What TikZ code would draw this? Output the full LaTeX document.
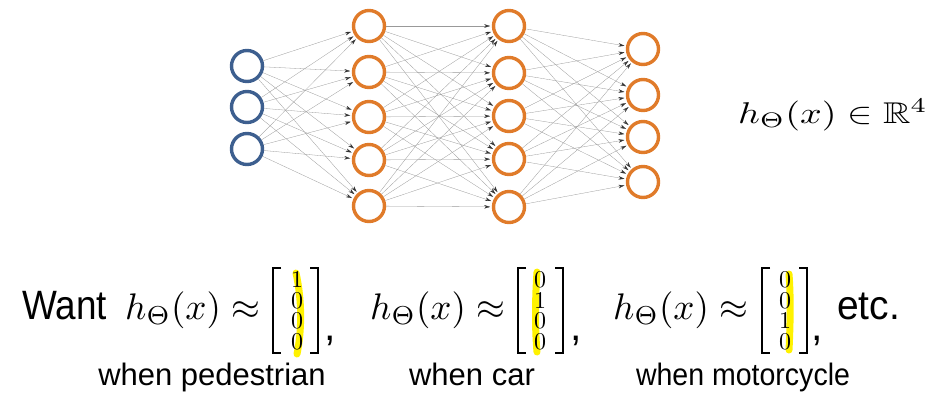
\documentclass[tikz,border=0pt]{standalone}
\usepackage{fontspec}
\setsansfont{Liberation Sans}
\usepackage{amsmath,amssymb}
\usepackage{graphicx}
\usetikzlibrary{arrows.meta}
\definecolor{nnblue}{RGB}{61,95,143}
\definecolor{nnorange}{RGB}{224,123,42}
\definecolor{hl}{RGB}{255,242,0}
\begin{document}
\begin{tikzpicture}[x=1pt,y=-1pt,
 neuron/.style={circle,draw,line width=3.4pt,minimum size=31pt,inner sep=0pt},
 inn/.style={neuron,draw=nnblue},
 hid/.style={neuron,draw=nnorange},
 conn/.style={draw=black!40,line width=0.3pt,-{Stealth[length=6pt,width=3.5pt,color=black!80]},shorten >=1.6pt},
 sans/.style={font=\sffamily\fontsize{41}{48}\selectfont,inner sep=0pt},
 lab/.style={font=\sffamily\fontsize{31}{36}\selectfont,inner sep=0pt},
 mth/.style={font=\fontsize{10}{12}\selectfont,inner sep=0pt},
 dig/.style={font=\fontsize{10}{12}\selectfont,inner sep=0pt},
 brk/.style={line width=1.6pt},
 hlpen/.style={draw=hl,line width=7pt,line cap=round}
]
\useasboundingbox (0,0) rectangle (941,402);
% neurons
\foreach \i/\y in {1/66,2/107,3/149} \node[inn] (i\i) at (247,\y) {};
\foreach \i/\y in {1/26,2/72,3/117,4/160,5/206} \node[hid] (a\i) at (369,\y) {};
\foreach \i/\y in {1/26,2/73,3/116,4/159,5/207} \node[hid] (b\i) at (509,\y) {};
\foreach \i/\y in {1/49,2/95,3/137,4/182} \node[hid] (o\i) at (643,\y) {};
% connections
\foreach \s in {1,...,3}\foreach \t in {1,...,5} \draw[conn] (i\s) -- (a\t);
\foreach \s in {1,...,5}\foreach \t in {1,...,5} \draw[conn] (a\s) -- (b\t);
\foreach \s in {1,...,5}\foreach \t in {1,...,4} \draw[conn] (b\s) -- (o\t);
% right formula
\node[mth,anchor=base west] (hR) at (738,123) {\scalebox{3.8}[3.0]{$h_\Theta(x)\in\mathbb{R}^4$}};
% bottom
\node[sans,anchor=base west] (want) at (22,319) {\scalebox{0.9}[1]{Want}};
\node[mth,anchor=base west] (f1) at (125,319) {\scalebox{3.7}{$h_\Theta(x)\approx$}};
\node[mth,anchor=base west] (f2) at (370,319) {\scalebox{3.7}{$h_\Theta(x)\approx$}};
\node[mth,anchor=base west] (f3) at (613,319) {\scalebox{3.7}{$h_\Theta(x)\approx$}};
% highlights
\draw[hlpen] (296,273) .. controls (302,300) and (302,330) .. (297,354);
\draw[hlpen] (537,272) .. controls (535,300) and (535,330) .. (537,352);
\draw[hlpen] (789,274) .. controls (791,300) and (790,330) .. (789,350);
% brackets
\foreach \c in {295.5,540.5,784.5}{
  \draw[brk] (\c-14.5,268) -- (\c-22.5,268) -- (\c-22.5,353) -- (\c-14.5,353);
  \draw[brk] (\c+14.5,268) -- (\c+22.5,268) -- (\c+22.5,353) -- (\c+14.5,353);
}
% digits
\foreach \k/\x/\a/\b/\cc/\d in {p/297/1/0/0/0, q/540/0/1/0/0, r/785/0/0/1/0}{
  \node[dig] (\k1) at (\x,280) {\scalebox{2.4}{$\a$}};
  \node[dig] (\k2) at (\x,300.5) {\scalebox{2.4}{$\b$}};
  \node[dig] (\k3) at (\x,321) {\scalebox{2.4}{$\cc$}};
  \node[dig] (\k4) at (\x,341.5) {\scalebox{2.4}{$\d$}};
}
% commas and etc.
\node[sans,anchor=base west] (c1) at (324,340) {,};
\node[sans,anchor=base west] (c2) at (570,340) {,};
\node[sans,anchor=base west] (c3) at (811,340) {,};
\node[sans,anchor=base west] (etc) at (837,319) {\scalebox{0.95}[1]{etc.}};
% labels
\node[lab,anchor=base] (l1) at (212,385) {when pedestrian};
\node[lab,anchor=base] (l2) at (472,385) {when car};
\node[lab,anchor=base] (l3) at (743,385) {\scalebox{0.92}[1]{when motorcycle}};
\end{tikzpicture}
\end{document}
